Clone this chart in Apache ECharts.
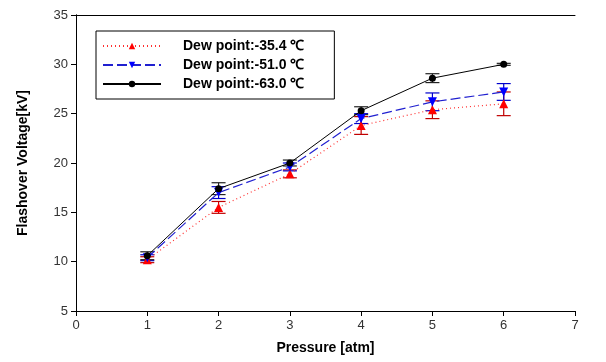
<!DOCTYPE html>
<html>
<head>
<meta charset="utf-8">
<script src="https://cdn.jsdelivr.net/npm/echarts@6/dist/echarts.min.js"></script>
<style>
  html, body { margin: 0; padding: 0; background: #fff; }
  #main { width: 606px; height: 362px; }
</style>
</head>
<body>
<div id="main"></div>
<script>
var pressure = [1, 2, 3, 4, 5, 6];
var names = ['Dew point:-35.4 ℃', 'Dew point:-51.0 ℃', 'Dew point:-63.0 ℃'];
var v354 = [10.2, 15.5, 18.9, 23.8, 25.4, 26.0];
var e354 = [0.3, 0.6, 0.4, 0.9, 0.9, 1.2];
var v510 = [10.4, 17.0, 19.6, 24.5, 26.2, 27.2];
var e510 = [0.3, 0.6, 0.4, 0.5, 0.9, 0.85];
var v630 = [10.6, 17.4, 20.0, 25.3, 28.6, 30.0];
var e630 = [0.4, 0.6, 0.3, 0.4, 0.45, 0.1];

var chart = echarts.init(document.getElementById('main'));

function pts(v) {
  return pressure.map(function (x, i) { return [x, v[i]]; });
}
function errPts(v, e) {
  return pressure.map(function (x, i) { return [x, v[i], e[i]]; });
}

// error bars: vertical line with caps
function errorSeries(data, color) {
  return {
    type: 'custom',
    silent: true,
    z: 1,
    data: errPts(data[0], data[1]),
    renderItem: function (params, api) {
      var x = api.value(0), y = api.value(1), e = api.value(2);
      var hi = api.coord([x, y + e]);
      var lo = api.coord([x, y - e]);
      var w = 7;
      var st = { stroke: color, lineWidth: 1.2 };
      return {
        type: 'group',
        children: [
          { type: 'line', shape: { x1: hi[0], y1: hi[1], x2: lo[0], y2: lo[1] }, style: st },
          { type: 'line', shape: { x1: hi[0] - w, y1: hi[1], x2: hi[0] + w, y2: hi[1] }, style: st },
          { type: 'line', shape: { x1: lo[0] - w, y1: lo[1], x2: lo[0] + w, y2: lo[1] }, style: st }
        ]
      };
    }
  };
}

var axisFont = { fontFamily: 'Liberation Sans, Arial', fontSize: 13, color: '#333' };

var option = {
  animation: false,
  backgroundColor: '#fff',
  grid: { left: 76, right: 31, top: 15, bottom: 51 },
  legend: {
    orient: 'vertical',
    left: 96,
    top: 31,
    data: names,
    itemWidth: 58,
    itemHeight: 8,
    itemGap: 5,
    padding: [8, 30, 8, 6],
    borderColor: '#000',
    borderWidth: 1,
    textStyle: {
      fontFamily: 'Liberation Sans, Arial',
      fontWeight: 'bold',
      fontSize: 14,
      color: '#000',
      padding: [0, 0, 0, 17]
    }
  },
  xAxis: [{
    type: 'value',
    min: 0, max: 7, interval: 1,
    name: 'Pressure [atm]',
    nameLocation: 'middle',
    nameGap: 30,
    nameTextStyle: { fontFamily: 'Liberation Sans, Arial', fontWeight: 'bold', fontSize: 14, color: '#000' },
    axisLine: { lineStyle: { color: '#000' } },
    axisTick: { inside: false, length: 5, lineStyle: { color: '#000' } },
    axisLabel: axisFont,
    splitLine: { show: false }
  }, {
    type: 'value', position: 'top', min: 0, max: 7,
    axisLine: { show: true, lineStyle: { color: '#000' } },
    axisTick: { show: false }, axisLabel: { show: false }, splitLine: { show: false }
  }],
  yAxis: [{
    type: 'value',
    min: 5, max: 35, interval: 5,
    name: 'Flashover Voltage[kV]',
    nameLocation: 'middle',
    nameGap: 46,
    nameTextStyle: { fontFamily: 'Liberation Sans, Arial', fontWeight: 'bold', fontSize: 14, color: '#000' },
    axisLine: { show: true, lineStyle: { color: '#000' } },
    axisTick: { show: true, inside: false, length: 5, lineStyle: { color: '#000' } },
    axisLabel: axisFont,
    splitLine: { show: false }
  }, {
    type: 'value', position: 'right', min: 5, max: 35,
    axisLine: { show: true, lineStyle: { color: '#000' } },
    axisTick: { show: false }, axisLabel: { show: false }, splitLine: { show: false }
  }],
  series: [
    errorSeries([v354, e354], '#c00000'),
    errorSeries([v510, e510], '#0000cc'),
    errorSeries([v630, e630], '#222'),
    {
      name: names[0], type: 'line', data: pts(v354), z: 3,
      symbol: 'triangle', symbolSize: 9,
      itemStyle: { color: '#ff0000' },
      lineStyle: { color: '#ff3030', width: 1.2, type: [1, 3] }
    },
    {
      name: names[1], type: 'line', data: pts(v510), z: 3,
      symbol: 'triangle', symbolRotate: 180, symbolSize: 9,
      itemStyle: { color: '#0000ff' },
      lineStyle: { color: '#2020d0', width: 1.2, type: [10, 4] }
    },
    {
      name: names[2], type: 'line', data: pts(v630), z: 4,
      symbol: 'circle', symbolSize: 7,
      itemStyle: { color: '#000' },
      lineStyle: { color: '#000', width: 1 }
    }
  ]
};

chart.setOption(option);
</script>
</body>
</html>
